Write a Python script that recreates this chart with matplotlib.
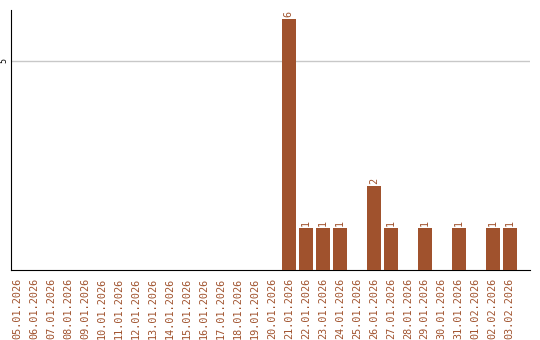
import numpy as np
import matplotlib.pyplot as plt

dates = ["05.01.2026", "06.01.2026", "07.01.2026", "08.01.2026", "09.01.2026",
         "10.01.2026", "11.01.2026", "12.01.2026", "13.01.2026", "14.01.2026",
         "15.01.2026", "16.01.2026", "17.01.2026", "18.01.2026", "19.01.2026",
         "20.01.2026", "21.01.2026", "22.01.2026", "23.01.2026", "24.01.2026",
         "25.01.2026", "26.01.2026", "27.01.2026", "28.01.2026", "29.01.2026",
         "30.01.2026", "31.01.2026", "01.02.2026", "02.02.2026", "03.02.2026"]
counts = [0, 0, 0, 0, 0, 0, 0, 0, 0, 0,
          0, 0, 0, 0, 0, 0, 6, 1, 1, 1,
          0, 2, 1, 0, 1, 0, 1, 0, 1, 1]

col = "#A0522D"
plt.rcParams['font.family'] = 'DejaVu Sans Mono'

fig = plt.figure(figsize=(5.4, 3.4), dpi=100)
ax = fig.add_axes([0.0204, 0.2059, 0.9611, 0.7647])

x = np.arange(len(dates))
ax.bar(x, counts, width=0.82, color=col, zorder=3)
for xi, c in zip(x, counts):
    if c > 0:
        ax.text(xi, c + 0.05, str(c), rotation=90, ha='center', va='bottom',
                fontsize=7.3, color=col)

ax.set_xlim(-0.35, 30.2)
ax.set_ylim(0, 6.22)
ax.set_xticks(x)
ax.set_xticklabels(dates, rotation=90, fontsize=7.3, color=col)
ax.set_yticks([5])
ax.set_yticklabels(["5"], rotation=90, fontsize=6, va='center')
ax.tick_params(length=0, pad=5.5)
ax.tick_params(axis='y', pad=2)
ax.grid(axis='y', color='#c8c8c8', linewidth=1, zorder=0)
ax.spines['top'].set_visible(False)
ax.spines['right'].set_visible(False)

plt.savefig("out.png", dpi=100)
